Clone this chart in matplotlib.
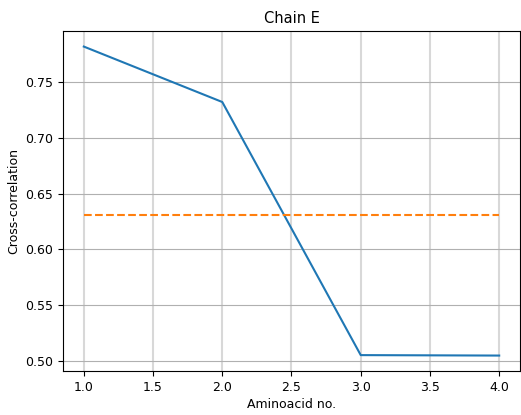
import matplotlib
matplotlib.use("Agg")
import matplotlib.pyplot as plt
import numpy as np

aminoacid_no = [1, 2, 3, 4]
cross_correlation = [0.7818, 0.7321, 0.5052, 0.5048]

plt.rcParams["font.size"] = 9

fig, ax = plt.subplots(figsize=(5.21, 4.15), dpi=100)
ax.plot(aminoacid_no, cross_correlation, color="#1f77b4", linewidth=1.5)
mean_cc = np.mean(cross_correlation)
ax.plot(aminoacid_no, [mean_cc] * len(aminoacid_no), color="#ff7f0e", linestyle="--", linewidth=1.5)
ax.set_title("Chain E", fontsize=10.5)
ax.set_xlabel("Aminoacid no.", labelpad=3)
ax.set_ylabel("Cross-correlation", labelpad=3.5)
ax.xaxis.grid(True, color="#d8d8d8", linewidth=1.5)
ax.yaxis.grid(True, color="#b0b0b0", linewidth=0.8)
ax.set_axisbelow(True)
fig.subplots_adjust(left=0.121, right=0.998, top=0.925, bottom=0.106)
fig.savefig("out.png", dpi=100)
